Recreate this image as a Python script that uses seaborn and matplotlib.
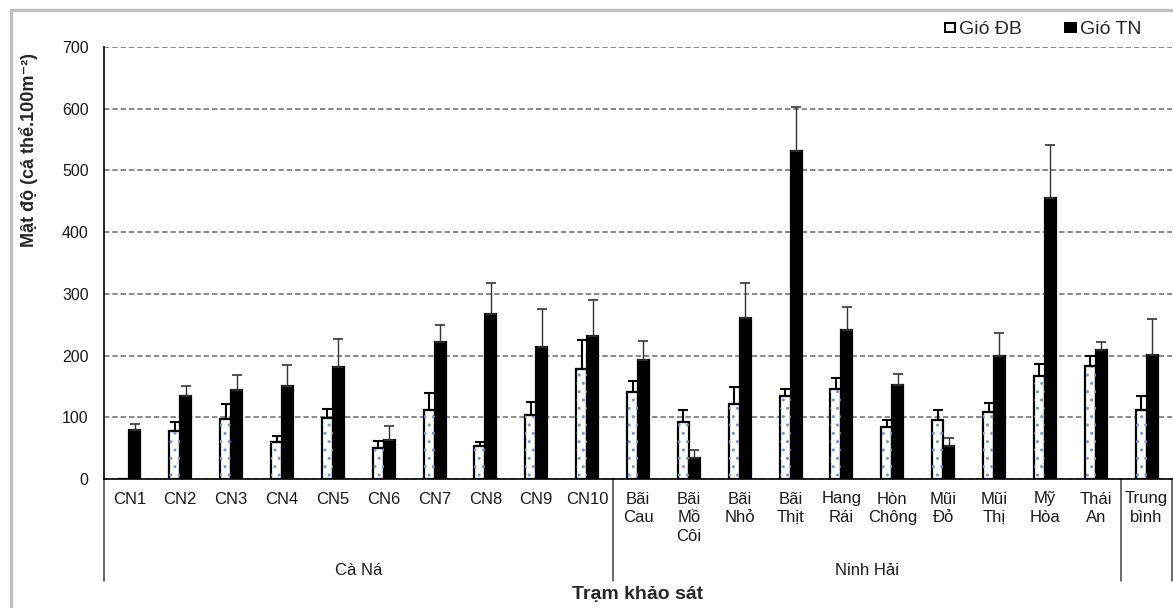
import numpy as np
import pandas as pd
import seaborn as sns
import matplotlib.pyplot as plt
import matplotlib.transforms as mtransforms
from matplotlib.patches import Patch, Rectangle

# stations (x categories) and their labels as printed under the axis
stations = ["CN1", "CN2", "CN3", "CN4", "CN5", "CN6", "CN7", "CN8", "CN9", "CN10",
            "Bãi Cau", "Bãi Mồ Côi", "Bãi Nhỏ", "Bãi Thịt", "Hang Rái", "Hòn Chông",
            "Mũi Đỏ", "Mũi Thị", "Mỹ Hòa", "Thái An", "Trung bình"]
tick_labels = ["CN1", "CN2", "CN3", "CN4", "CN5", "CN6", "CN7", "CN8", "CN9", "CN10",
               "Bãi\nCau", "Bãi\nMồ\nCôi", "Bãi\nNhỏ", "Bãi\nThịt", "Hang\nRái", "Hòn\nChông",
               "Mũi\nĐỏ", "Mũi\nThị", "Mỹ\nHòa", "Thái\nAn", "Trung\nbình"]
regions = ["Cà Ná"] * 10 + ["Ninh Hải"] * 10 + [""]

# density (individuals per 100 m2), mean and upper error
db_mean = [0, 77, 98, 60, 99, 50, 111, 53, 103, 179,
           141, 93, 121, 135, 146, 84, 95, 108, 167, 183, 111]
db_err = [0, 16, 24, 10, 15, 11, 28, 7, 22, 46,
          18, 18, 28, 11, 18, 11, 16, 15, 20, 16, 23]
tn_mean = [80, 135, 144, 150, 182, 64, 222, 268, 214, 231,
           193, 34, 261, 532, 242, 153, 54, 200, 455, 209, 201]
tn_err = [9, 16, 24, 34, 45, 22, 28, 49, 61, 59,
          30, 13, 56, 71, 37, 17, 12, 36, 87, 13, 58]

winds = ["Gió ĐB", "Gió TN"]

df = pd.DataFrame({
    "station": stations * 2,
    "wind": [winds[0]] * len(stations) + [winds[1]] * len(stations),
    "value": db_mean + tn_mean,
})

sns.set_style("white")
plt.rcParams["font.family"] = ["Liberation Sans", "DejaVu Sans"]
plt.rcParams["hatch.linewidth"] = 1.0

W, H = 1173, 608
fig = plt.figure(figsize=(W / 100, H / 100), dpi=100)
ax = fig.add_axes([104 / W, 1 - 479 / H, (1172 - 104) / W, 432 / H])

sns.barplot(data=df, x="station", y="value", hue="wind", order=stations,
            hue_order=winds, palette={winds[0]: "white", winds[1]: "black"},
            width=0.43, gap=0, saturation=1, edgecolor="black", linewidth=1.6,
            errorbar=None, legend=False, ax=ax)

# blue dotted fill on the white bars
for bar in ax.containers[0]:
    if bar.get_height() > 0:
        ax.add_patch(Rectangle(bar.get_xy(), bar.get_width(), bar.get_height(),
                               fill=False, hatch="..", edgecolor="#6f9bd6",
                               lw=0, zorder=bar.get_zorder() + 0.1))

# upper error bars only
styles = [dict(ecolor="black", elinewidth=1.5, capthick=1.5),
          dict(ecolor="#333333", elinewidth=1.0, capthick=1.2)]
for cont, errs, st in zip(ax.containers, [db_err, tn_err], styles):
    xs, ys, es = [], [], []
    for bar, e in zip(cont, errs):
        if e > 0:
            xs.append(bar.get_x() + bar.get_width() / 2)
            ys.append(bar.get_height())
            es.append(e)
    ax.errorbar(xs, ys, yerr=[np.zeros(len(es)), es], fmt="none",
                capsize=3.3, zorder=1.5, **st)

ax.set_xlim(-0.5, len(stations) - 0.5)
ax.set_ylim(0, 700)
ax.set_yticks(range(0, 701, 100))
ax.set_xticks(range(len(stations)))
ax.set_xticklabels(tick_labels, linespacing=1.3)
ax.set_xlabel("")
ax.set_ylabel("")
ax.tick_params(axis="x", length=0, pad=9, labelsize=12, colors="#1a1a1a")
ax.tick_params(axis="y", direction="out", length=4, width=1, pad=7,
               labelsize=11.5, colors="black", labelcolor="#1a1a1a")
ax.set_axisbelow(True)
ax.yaxis.grid(True, color="#808080", linestyle=(0, (3, 1.6)), linewidth=1.3)
for s in ["top", "right"]:
    ax.spines[s].set_visible(False)
for s in ["left", "bottom"]:
    ax.spines[s].set_color("black")
    ax.spines[s].set_linewidth(1.2)

# region brackets below the category labels
trans = mtransforms.blended_transform_factory(ax.transData, ax.transAxes)
bounds = [-0.5]
for i in range(1, len(regions)):
    if regions[i] != regions[i - 1]:
        bounds.append(i - 0.5)
bounds.append(len(regions) - 0.5)
for b in bounds:
    ax.plot([b, b], [0, -0.236], color="#404040", lw=1.1, transform=trans,
            clip_on=False)
for name in dict.fromkeys(regions):
    if name:
        idx = [i for i, r in enumerate(regions) if r == name]
        ax.text((idx[0] + idx[-1]) / 2, -0.211, name, transform=trans,
                ha="center", va="center", fontsize=12, color="#1a1a1a")

fig.text(29 / W, 1 - 150 / H, "Mật độ (cá thể.100m⁻²)", rotation=90,
         ha="center", va="center", fontsize=13, fontweight="bold")
fig.text(638 / W, 1 - 595 / H, "Trạm khảo sát", ha="center", va="center",
         fontsize=14, fontweight="bold")

handles = [Patch(facecolor="white", edgecolor="black", lw=1.4),
           Patch(facecolor="black", edgecolor="black", lw=1.4)]
fig.legend(handles, winds, loc="center right", bbox_to_anchor=(1141 / W, 1 - 30 / H),
           ncol=2, frameon=False, fontsize=14, handlelength=0.55, handleheight=0.3,
           handletextpad=0.2, columnspacing=2.2, borderpad=0, borderaxespad=0)

# gray chart-area frame (only top and left visible)
fig.add_artist(Rectangle((10.5 / W, -0.1), 1.2, 1.1 - 10.5 / H, transform=fig.transFigure,
                         fill=False, edgecolor="#bfbfbf", lw=2.4, clip_on=False))

fig.savefig("out.png", dpi=100)
